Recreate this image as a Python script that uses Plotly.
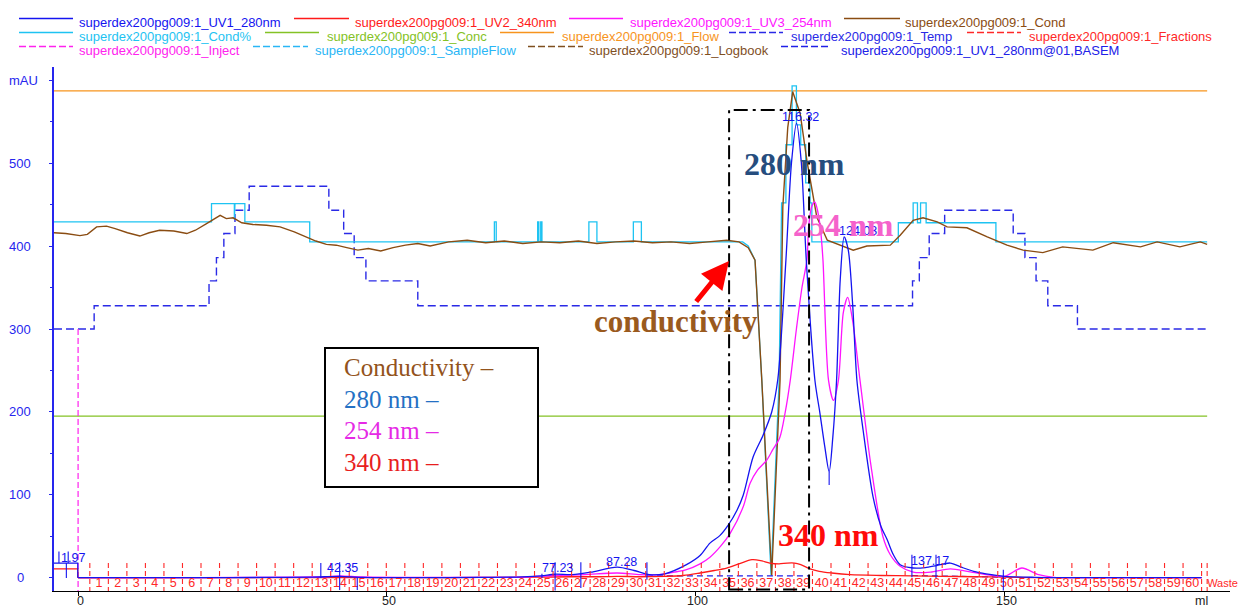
import plotly.graph_objects as go

# ---------------- chromatogram data (ml, signal) ----------------
uv1_ml = [0, 10, 20, 30, 38, 42.35, 46, 55, 65, 72, 75, 77.23, 80, 83, 87.28, 90, 92.5, 95,
          98.5, 100.7, 102.3, 103.9, 105.2, 106.7, 107.7, 109.3, 110.9, 112.3, 113.3, 114.6,
          115.5, 116.32, 117.1, 117.9, 119.3, 120.1, 120.9, 121.6, 122.2, 122.8, 123.4, 124.03,
          124.7, 125.4, 126.1, 127.1, 128.7, 130, 131, 132, 133.1, 135.2, 137.17, 139, 141.2,
          143, 145, 147, 150, 155, 160, 170, 181.9]
uv1_mau = [0.3, 0.4, 0.5, 0.6, 1.0, 2.0, 0.8, 0.5, 0.6, 1.2, 2.5, 4.5, 4, 7, 13, 9, 4, 5,
           16, 27, 42, 51, 63, 82, 100, 146, 172, 200, 240, 383,
           500, 548, 500, 383, 238, 199, 158, 128, 170, 238, 360, 411,
           395, 330, 238, 178, 98, 62, 46, 28, 16, 12, 12.5, 15, 18,
           13, 8, 5, 2, 0.8, 0.5, 0.5, 0.5]

uv3_ml = [0, 20, 35, 40, 42.35, 46, 55, 65, 72, 77.23, 82, 87.28, 91, 94, 96.5, 98.5, 100.7,
          102.3, 104, 105.6, 107.7, 108.8, 110, 111.5, 112.5, 113.6, 114.5, 115.3, 116.3, 117.2,
          118, 118.3, 118.8, 119.3, 119.8, 120.2, 120.6, 121.5, 122.3, 123.1, 123.9, 124.6,
          125.4, 126.6, 128.3, 130.3, 131.5, 133.1, 135.2, 138, 141.2, 144, 147, 150, 152.8,
          155.5, 158, 162, 181.9]
uv3_mau = [0.3, 0.5, 1.0, 1.5, 2.5, 1.2, 0.6, 0.7, 1.0, 3, 4, 6, 4, 4, 7, 10, 17,
           25, 38, 54, 86, 114, 130, 142, 155, 169, 200, 238, 300, 350,
           383, 425, 448, 453, 440, 420, 383, 238, 214, 238, 320, 338,
           310, 238, 139, 50, 28, 14, 7, 7, 11, 8, 4, 2, 12,
           4, 0.8, 0.3, 0.3]

uv2_ml = [0, 30, 60, 75, 80, 84, 87.28, 91, 95, 98, 100.7, 103, 105, 107, 109.1, 110.5, 112,
          113.5, 114.8, 116, 117, 118.5, 120, 122, 125, 130, 135, 140, 145, 150, 155, 181.9]
uv2_mau = [0.2, 0.3, 0.5, 1, 1.5, 1.5, 2, 1.5, 2, 3, 6, 9, 12, 17, 22, 21, 18,
           17, 18, 18, 16, 11, 8, 6, 4, 3, 2.5, 2, 1.5, 1, 0.5, 0.5]

# signal levels before injection
pre_ml = [-3.9, -0.05, -0.05]
pre_uv1 = [18, 18, 0.3]
pre_uv2 = [11, 11, 0.2]

cond_ml = [-3.9, -2, 0.3, 1.5, 3.0, 4.6, 6, 8, 10, 11.5, 13.2, 15.5, 17.6, 19, 20.8, 22, 23, 24,
           25.1, 26.5, 28.3, 30.5, 32.7, 35, 37, 38.5, 40.2, 41.8, 43.5, 45.3, 47, 49, 51, 53,
           55, 57, 60, 63, 66, 69, 72, 75, 78, 81, 84, 87, 90, 93, 96, 99, 102, 105, 107,
           108.5, 109.6, 110.7, 112.3, 113.65, 114.1, 114.9, 115.7, 116.9, 118, 119.6, 121.3,
           123.3, 125.5, 127.7, 129.9, 131.5, 133.1, 135.2, 136.8, 139.1, 140.7, 143.9, 147.2,
           150.4, 153, 156.2, 159.4, 162, 164.3, 167.6, 170, 172, 174.7, 177, 178.4, 180,
           181.7, 182.8]
cond_val = [416, 415, 412.5, 414, 423, 424, 421, 416, 412, 416, 419, 418, 415, 419, 427, 433, 437,
            433, 434, 428, 426, 425, 423, 417, 411, 406, 402, 401, 398, 395, 397, 394, 398, 401,
            403, 400, 405, 407, 404, 406, 403, 405, 404, 406, 403, 405, 406, 404, 405, 403, 405,
            407, 405, 398, 383, 238, 3, 238, 447, 543, 586, 560, 503, 435, 407, 401, 395, 400,
            401, 401, 413, 431, 434, 429, 423, 422, 411, 401, 395, 392, 399, 397, 395, 404, 401,
            399, 405, 401, 399, 402, 405, 402]

condpct_ml = [-3.9, 21.6, 21.6, 25.3, 25.3, 25.4, 27, 27, 37.5, 37.5, 67.4, 67.4, 67.7, 67.7,
              74.4, 74.4, 74.6, 74.6, 74.9, 74.9, 75.1, 75.1, 82.7, 82.7, 84.0, 84.0, 89.9, 89.9,
              91.2, 91.2, 107.6, 108.5, 109.6, 110.7, 112.2, 113.5, 113.9, 114.6, 114.6, 115.6,
              115.6, 116.3, 116.3, 117.0, 117.0, 117.8, 117.8, 118.5, 118.5, 118.8, 118.8, 132.8,
              132.8, 135.2, 135.2, 135.9, 135.9, 136.4, 136.4, 137.3, 137.3, 148.6, 148.6, 182.8]
condpct_val = [429, 429, 451, 451, 432, 451, 451, 429, 429, 405, 405, 429, 429, 405,
               405, 429, 429, 405, 405, 429, 429, 405, 405, 429, 429, 405, 405, 429,
               429, 405, 405, 400, 383, 238, 3, 238, 452, 452, 522, 522,
               593, 593, 546, 546, 522, 522, 476, 476, 452, 452, 405, 405,
               428, 428, 452, 452, 428, 428, 452, 452, 428, 428, 405, 405]

temp_ml = [-3.9, 2.6, 21.2, 22.4, 23.6, 25.4, 27.7, 40.6, 43.0, 44.7, 46.6, 55.0, 135.1, 136.2,
           137.8, 140.3, 151.4, 153.3, 155.1, 157.0, 161.8, 182.8]
temp_val = [300, 328, 358, 386, 415, 443, 472, 443, 415, 386, 358, 328, 358, 386,
            415, 443, 415, 386, 358, 328, 300, 300]

flow_ml = [-3.9, 182.8]
flow_val = [587, 587]
conc_ml = [-3.9, 182.8]
conc_val = [195, 195]

inject_ml = [0, 0]
inject_val = [300, -15.7]

basem_ml = [92.1, 118.3, None, 135.0, 149.8]
basem_val = [2.5, 2.5, None, 3, 1]

# fraction boundaries (ml) and their labels
frac_bounds = [1.9, 4.9, 7.9, 10.9, 13.9, 16.9, 19.9, 22.9, 25.9, 28.9, 31.9, 34.9, 37.9, 40.9,
               43.9, 46.9, 49.9, 52.9, 55.9, 58.9, 61.9, 64.9, 67.9, 70.9, 73.9, 76.9, 79.9,
               82.9, 85.9, 88.9, 91.9, 94.9, 97.9, 100.9, 103.9, 106.9, 109.9, 112.9, 115.9,
               118.9, 121.9, 124.9, 127.9, 130.9, 133.9, 136.9, 139.9, 142.9, 145.9, 148.9,
               151.9, 154.9, 157.9, 160.9, 163.9, 166.9, 169.9, 172.9, 175.9, 178.9, 181.9]
frac_labels = [str(i) for i in range(1, 61)]
waste_ml = 182.8
frac_top = 18

# peak retention volumes and label heights
peak_ml = [1.97, 42.35, 77.23, 87.28, 116.32, 124.03, 137.17]
peak_label_y = [24, 11.5, 11.5, 19.5, 555, 418, 20.5]
peak_label_shift = [-17, 3, 2, 4, 4, 14, 5]

# integration boundary marks: (ml, from, to)
mark_ml = [-3.1, -1.6, -1.9, 39.3, 42.35, 45.2, 75.1, 77.23, 81.4, 92.1, 121.6, 135.0, 138.9, 149.8]
mark_lo = [18, 18, 0, 0, -14.5, -14.5, 0, -15, -12, -2, 112, 1, 0, -15]
mark_hi = [32, 32, 18, 18, 19, 0, 5, 19, 19, 19, 128, 28, 28, 10]

y_ticks = [0, 100, 200, 300, 400, 500, 600]
y_tick_text = ["0", "100", "200", "300", "400", "500", "mAU"]
x_ticks = [0, 50, 100, 150]

# ---------------- colours ----------------
C_UV1 = "#1414F0"
C_UV2 = "#FF1A1A"
C_UV3 = "#FF14FF"
C_COND = "#8A4C12"
C_CONDP = "#1EC3F2"
C_CONC = "#84C225"
C_FLOW = "#F7941D"
C_TEMP = "#2A2AE6"
C_FRAC = "#FF2828"
C_INJ = "#FF22EE"
C_SFLOW = "#29B6F6"
C_LOG = "#7F4F1F"
C_BASEM = "#2020E8"

SANS = "Liberation Sans, Arial, sans-serif"
SERIF = "Liberation Serif, Times New Roman, serif"

# plot area geometry (pixels) used for placing decorations
L, R, T, B = 54, 1230, 67, 591
W, H = 1239, 608


def px(x):
    return (x - L) / (R - L)


def py(y):
    return (B - y) / (B - T)


fig = go.Figure()


def add_line(x, y, color, width=1.2, dash="solid", shape="linear", smoothing=None):
    line = dict(color=color, width=width, dash=dash, shape=shape)
    if smoothing is not None:
        line["smoothing"] = smoothing
    fig.add_trace(go.Scatter(x=x, y=y, mode="lines", line=line,
                             hoverinfo="skip", showlegend=False))


add_line(flow_ml, flow_val, C_FLOW, 1.2)
add_line(conc_ml, conc_val, C_CONC, 1.3)
add_line(temp_ml, temp_val, C_TEMP, 1.4, dash="8px,4px", shape="hv")
add_line(inject_ml, inject_val, C_INJ, 1.2, dash="6px,3px")
add_line(condpct_ml, condpct_val, C_CONDP, 1.3)
add_line(cond_ml, cond_val, C_COND, 1.4)
add_line(basem_ml, basem_val, C_BASEM, 1.2, dash="6px,4px")
add_line(pre_ml, pre_uv2, C_UV2, 1.2)
add_line(pre_ml, pre_uv1, C_UV1, 1.2)
add_line(uv2_ml, uv2_mau, C_UV2, 1.3, shape="spline", smoothing=0.8)
add_line(uv3_ml, uv3_mau, C_UV3, 1.3, shape="spline", smoothing=0.8)
add_line(uv1_ml, uv1_mau, C_UV1, 1.3, shape="spline", smoothing=0.8)

# fraction ticks
fx, fy = [], []
for b in frac_bounds + [waste_ml]:
    fx += [b, b, None]
    fy += [frac_top, -15.7, None]
add_line(fx, fy, C_FRAC, 1.1, dash="5px,3px")

# fraction labels centred between boundaries
frac_centres = [(frac_bounds[i] + frac_bounds[i + 1]) / 2 for i in range(len(frac_labels))]
fig.add_trace(go.Scatter(x=frac_centres, y=[-7.2] * len(frac_centres), mode="text",
                         text=frac_labels, textposition="middle center",
                         textfont=dict(family=SANS, size=12.5, color=C_FRAC),
                         hoverinfo="skip", showlegend=False, cliponaxis=False))
fig.add_trace(go.Scatter(x=[waste_ml], y=[-7.2], mode="text", text=["Waste"],
                         textposition="middle right",
                         textfont=dict(family=SANS, size=11, color=C_FRAC),
                         hoverinfo="skip", showlegend=False, cliponaxis=False))

# integration marks
mx, my = [], []
for m, lo, hi in zip(mark_ml, mark_lo, mark_hi):
    mx += [m, m, None]
    my += [lo, hi, None]
add_line(mx, my, C_UV1, 1.1)

annotations = []
shapes = []

# peak labels
for pm, ly, sh in zip(peak_ml, peak_label_y, peak_label_shift):
    annotations.append(dict(x=pm, y=ly, xref="x", yref="y", text=f"{pm:.2f}", showarrow=False,
                            xshift=sh, xanchor="center", yanchor="middle",
                            font=dict(family=SANS, size=12.5, color=C_UV1)))

# y tick labels (centred in the left margin)
for v, t in zip(y_ticks, y_tick_text):
    annotations.append(dict(x=px(23.5 if t == "mAU" else 20), y=v, xref="paper", yref="y",
                            text=t, showarrow=False, xanchor="center", yanchor="middle",
                            font=dict(family=SANS, size=13, color="#2626EE")))

# x tick labels and unit
for v in x_ticks:
    annotations.append(dict(x=v, y=py(601), xref="x", yref="paper", text=str(v),
                            showarrow=False, xanchor="center", yanchor="middle", xshift=2,
                            font=dict(family=SANS, size=12.5, color="#222222")))
annotations.append(dict(x=px(1201), y=py(601), xref="paper", yref="paper", text="ml",
                        showarrow=False, xanchor="center", yanchor="middle",
                        font=dict(family=SANS, size=12.5, color="#222222")))

# top legend
legend_rows = [
    [("superdex200pg009:1_UV1_280nm", C_UV1, "solid", 19, 73, 77),
     ("superdex200pg009:1_UV2_340nm", C_UV2, "solid", 294, 349, 353),
     ("superdex200pg009:1_UV3_254nm", C_UV3, "solid", 569, 623, 628),
     ("superdex200pg009:1_Cond", C_COND, "solid", 844, 900, 903)],
    [("superdex200pg009:1_Cond%", C_CONDP, "solid", 19, 73, 77),
     ("superdex200pg009:1_Conc", C_CONC, "solid", 265, 319, 325),
     ("superdex200pg009:1_Flow", C_FLOW, "solid", 500, 554, 560),
     ("superdex200pg009:1_Temp", C_TEMP, "dash", 729, 783, 789),
     ("superdex200pg009:1_Fractions", C_FRAC, "dash", 967, 1021, 1027)],
    [("superdex200pg009:1_Inject", C_INJ, "dash", 19, 73, 77),
     ("superdex200pg009:1_SampleFlow", C_SFLOW, "dash", 253, 308, 313),
     ("superdex200pg009:1_Logbook", C_LOG, "dash", 528, 583, 587),
     ("superdex200pg009:1_UV1_280nm@01,BASEM", C_BASEM, "dash", 781, 830, 839)],
]
row_line_y = [18.5, 32.5, 46.5]
row_text_y = [22, 36.5, 50.5]
for row, ly, ty in zip(legend_rows, row_line_y, row_text_y):
    for name, col, dash, x0, x1, tx in row:
        shapes.append(dict(type="line", xref="paper", yref="paper", x0=px(x0), x1=px(x1),
                           y0=py(ly), y1=py(ly),
                           line=dict(color=col, width=1.3,
                                     dash="7px,3px" if dash == "dash" else "solid")))
        annotations.append(dict(x=px(tx), y=py(ty), xref="paper", yref="paper", text=name,
                                showarrow=False, xanchor="left", yanchor="middle",
                                font=dict(family=SANS, size=13, color=col)))

# dash-dot region box around the main peak
shapes.append(dict(type="rect", xref="x", yref="y", x0=105.4, x1=118.35, y0=-14, y1=564,
                   line=dict(color="black", width=2, dash="14px,5px,3px,5px"),
                   fillcolor="rgba(0,0,0,0)"))

# boxed key
shapes.append(dict(type="rect", xref="paper", yref="paper", x0=px(325), x1=px(538),
                   y0=py(487), y1=py(348), line=dict(color="black", width=2),
                   fillcolor="white"))
key_items = [("Conductivity –", "#93531C", 367), ("280 nm –", "#2470C4", 399),
             ("254 nm –", "#E52AE5", 430), ("340 nm –", "#E81E1E", 462)]
for txt, col, yy in key_items:
    annotations.append(dict(x=px(342), y=py(yy), xref="paper", yref="paper", text=txt,
                            showarrow=False, xanchor="left", yanchor="middle",
                            font=dict(family=SERIF, size=25, color=col)))

# wavelength call-outs
callouts = [("280 nm", "#264D7E", 795, 164), ("254 nm", "#F562CB", 843, 225),
            ("340 nm", "#FF0A0A", 828, 535), ("conductivity", "#9A5A1E", 676, 321)]
for txt, col, cx, cy in callouts:
    annotations.append(dict(x=px(cx), y=py(cy), xref="paper", yref="paper",
                            text=f"<b>{txt}</b>", showarrow=False,
                            xanchor="center", yanchor="middle",
                            font=dict(family=SERIF, size=31 if txt == "conductivity" else 32,
                                      color=col)))

# arrow pointing at the conductivity drop
annotations.append(dict(x=px(729), y=py(261), xref="paper", yref="paper", text="",
                        showarrow=True, ax=-34, ay=42, arrowhead=2, arrowsize=1.1,
                        arrowwidth=5, arrowcolor="#FF0000"))

fig.update_layout(
    width=W, height=H,
    margin=dict(l=L, r=W - R, t=T, b=H - B, pad=0, autoexpand=False),
    paper_bgcolor="white", plot_bgcolor="white",
    showlegend=False,
    xaxis=dict(range=[-3.9, 186.5], tickvals=x_ticks, ticks="outside", ticklen=4,
               tickcolor="black", showline=True, linecolor="black", linewidth=1,
               showticklabels=False, showgrid=False, zeroline=False, automargin=False),
    yaxis=dict(range=[-15.7, 615.7], tickvals=y_ticks, ticks="outside", ticklen=3,
               tickcolor="#2626EE", showticklabels=False, showline=True, automargin=False,
               linecolor="#2626EE", linewidth=1.5, showgrid=False, zeroline=False,
               minor=dict(dtick=50, tick0=0, ticks="outside", ticklen=2, tickcolor="#2626EE")),
    shapes=shapes,
    annotations=annotations,
)

fig.write_html("out.html")
